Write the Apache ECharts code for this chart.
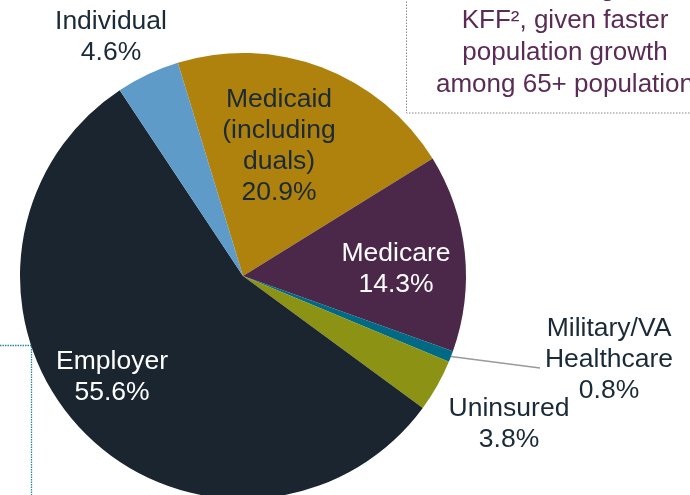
<!DOCTYPE html>
<html>
<head>
<meta charset="utf-8">
<script src="https://cdn.jsdelivr.net/npm/echarts@6/dist/echarts.min.js"></script>
<style>
  html, body { margin: 0; padding: 0; background: #fff; }
  #chart { width: 690px; height: 495px; }
</style>
</head>
<body>
<div id="chart"></div>
<script>
// coverage categories, clockwise from the top-left
const categories = ["Medicaid\n(including\nduals)", "Medicare", "Military/VA\nHealthcare", "Uninsured", "Employer", "Individual"];
const shares = [20.9, 14.3, 0.8, 3.8, 55.6, 4.6];
const noteLines = ["Medicare share rising according to", "KFF\u00b2, given faster", "population growth", "among 65+ population"];

const sliceColors = ["#AE820C", "#4B2749", "#006A84", "#8C9214", "#1A2530", "#5E9BC8"];
const labelColors = ["#1B2A38", "#ffffff", "#1B2A38", "#1B2A38", "#ffffff", "#1B2A38"];
// label block centres (px)
const labelCenters = [[279, 146], [396, 269], [609, 360], [509, 424], [112, 377], [111, 37]];

const FONT = "'Liberation Sans', Arial, sans-serif";
const chart = echarts.init(document.getElementById("chart"));

const option = {
  animation: false,
  series: [
    {
      type: "pie",
      center: [243, 276],
      radius: 223,
      startAngle: 107,
      clockwise: true,
      avoidLabelOverlap: false,
      itemStyle: { borderWidth: 0 },
      label: {
        show: true,
        position: "inside",
        fontFamily: FONT,
        fontSize: 26.5,
        lineHeight: 31,
        align: "center",
        formatter: (p) => p.name + "\n" + p.value.toFixed(1) + "%",
      },
      labelLine: { show: false },
      labelLayout: (params) => {
        const c = labelCenters[params.dataIndex];
        const out = { x: c[0], y: c[1], align: "center", verticalAlign: "middle" };
        if (params.labelLinePoints) {
          // straight leader from the slice edge to the left of "Healthcare"
          const p0 = params.labelLinePoints[0];
          const end = [c[0] - 69, c[1] + 8];
          out.labelLinePoints = [p0, [(p0[0] + end[0]) / 2, (p0[1] + end[1]) / 2], end];
        }
        return out;
      },
      data: categories.map((name, i) => ({
        name: name,
        value: shares[i],
        itemStyle: { color: sliceColors[i] },
        label: {
          color: labelColors[i],
          position: i === 2 ? "outside" : "inside",
        },
        labelLine: i === 2 ? { show: true, length: 20, length2: 20, lineStyle: { color: "#9a9a9a", width: 1.5 } } : { show: false },
      })),
    },
  ],
  graphic: [
    {
      type: "rect",
      shape: { x: 406.5, y: -10, width: 320, height: 123 },
      style: { fill: "none", stroke: "#8e8494", lineWidth: 1, lineDash: [1.5, 1.5] },
    },
    {
      type: "text",
      x: 565,
      y: -27,
      style: {
        text: noteLines.join("\n"),
        font: "26px " + FONT,
        fill: "#5A2C55",
        align: "center",
        verticalAlign: "top",
        lineHeight: 32,
      },
    },
    {
      type: "polyline",
      shape: { points: [[0, 345.5], [31.5, 345.5], [31.5, 495]] },
      style: { fill: "none", stroke: "#2A88A0", lineWidth: 1.3, lineDash: [1.5, 1] },
    },
  ],
};

chart.setOption(option);
</script>
</body>
</html>
